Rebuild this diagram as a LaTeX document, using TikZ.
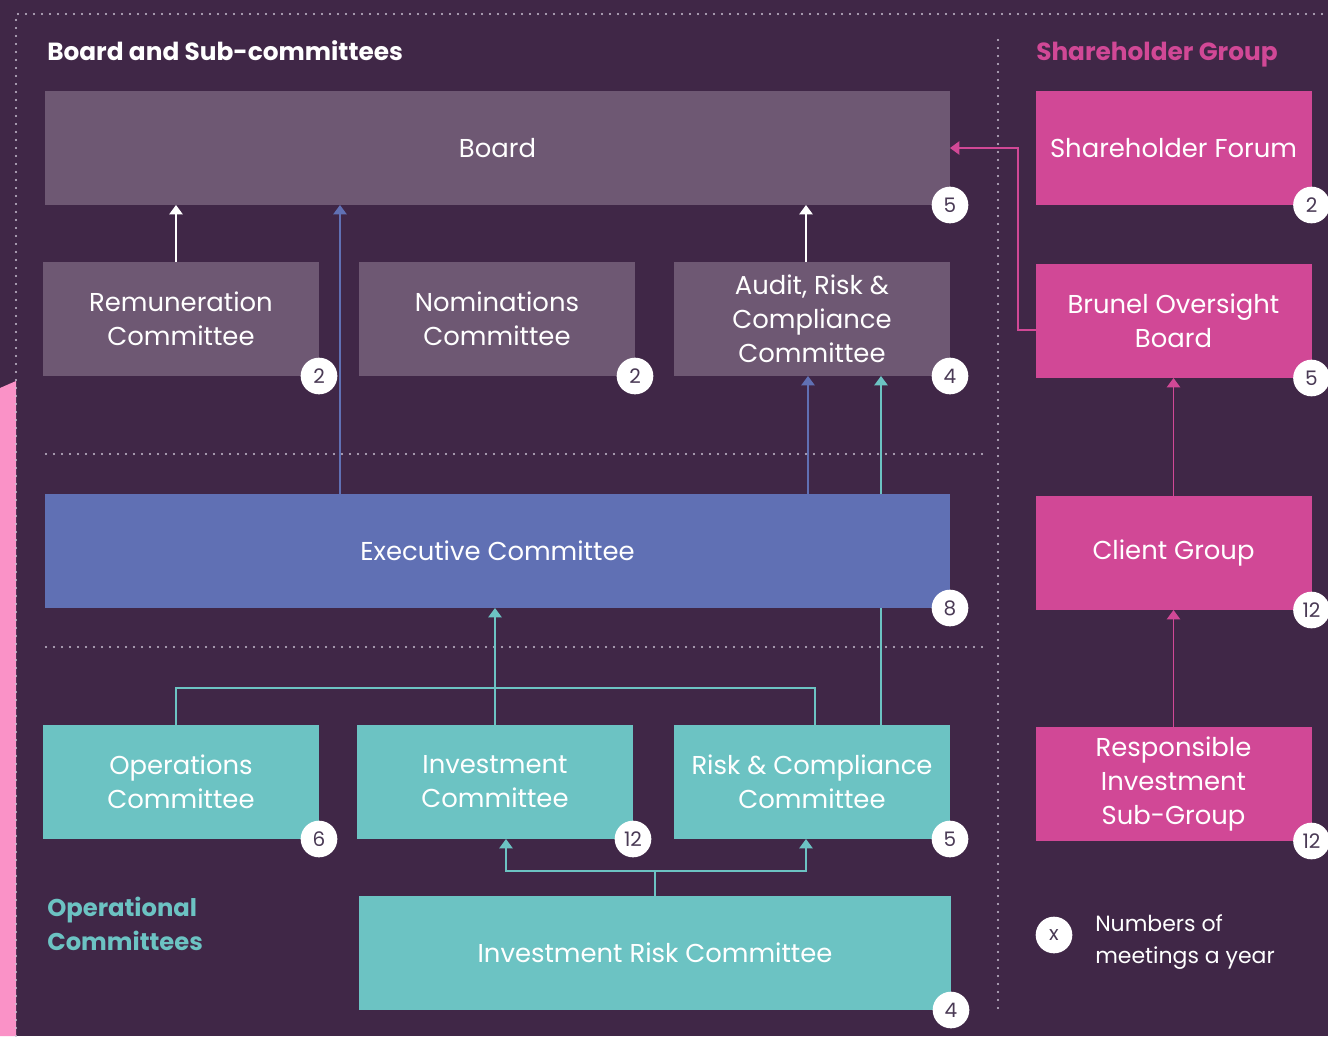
\documentclass[tikz,border=0pt]{standalone}
\usepackage{fontspec}
\setmainfont{Poppins}
\usetikzlibrary{positioning, arrows.meta, backgrounds}

\definecolor{bgpurple}{HTML}{402747}
\definecolor{boardgrey}{HTML}{6E5873}
\definecolor{execblue}{HTML}{6070B4}
\definecolor{opsteal}{HTML}{6CC3C3}
\definecolor{brunelpink}{HTML}{D14896}
\definecolor{strippink}{HTML}{FA92C7}
\definecolor{dotgrey}{HTML}{C9C1D2}
\definecolor{badgetext}{HTML}{4A3A55}

\begin{document}
\begin{tikzpicture}[x=0.75pt, y=-0.75pt, >={Triangle[width=10pt,length=7pt]},
    box/.style = {inner sep=0pt, outer sep=0pt, minimum height=85.5pt, text=white,
        align=center, font=\fontsize{19.4}{25.5}\selectfont},
    small/.style = {box, minimum width=207pt},
    wide/.style = {box, minimum width=678.75pt},
    badge/.style = {circle, fill=white, minimum size=27.5pt, inner sep=0pt,
        text=badgetext, font=\fontsize{15}{15}\selectfont},
    dots/.style = {draw=dotgrey, line width=1.6pt, line cap=round, dash pattern=on 0pt off 6pt},
    arrow/.style = {->, line width=1.1pt},
    title/.style = {anchor=base west, inner sep=0pt, font=\bfseries\fontsize{18.6}{25}\selectfont}]

    \useasboundingbox (0,0) rectangle (1328,1036);

    % Background
    \begin{scope}[on background layer]
    \fill[bgpurple] (0,0) rectangle (1328,1036);
    \fill[strippink] (0,388) -- (16,381) -- (16,1036) -- (0,1036) -- cycle;
    \draw[dots] (16,1036) -- (16,14) -- (1328,14);
    \draw[dots] (998,40) -- (998,1010);
    \draw[dots] (46,454) -- (985,454);
    \draw[dots] (46,647) -- (985,647);
    \end{scope}

    % Titles
    \node [title, text=white] (boardtitle) at (47,60) {Board and Sub-committees};
    \node [title, text=brunelpink] (sharetitle) at (1036,60) {Shareholder Group};
    \node [anchor=west, inner sep=0pt, align=left, text=opsteal,
        font=\bfseries\fontsize{18.2}{25.5}\selectfont] (opstitle) at (47,924) {Operational\\Committees};

    % Board and sub-committees
    \node [wide, fill=boardgrey] (board) at (497.5,148) {Board};
    \node [small, fill=boardgrey] (remun) at (181,319) {Remuneration\\Committee};
    \node [small, fill=boardgrey] (nomin) at (497,319) {Nominations\\Committee};
    \node [small, fill=boardgrey] (audit) at (812,319) {Audit, Risk \&\\Compliance\\Committee};
    \node [wide, fill=execblue] (exec) at (497.5,551) {Executive Committee};

    % Operational committees
    \node [small, fill=opsteal] (ops) at (181,782) {Operations\\Committee};
    \node [small, fill=opsteal] (inv) at (495,782) {Investment\\Committee};
    \node [small, fill=opsteal] (riskc) at (812,782) {Risk \& Compliance\\Committee};
    \node [box, minimum width=444pt, fill=opsteal] (irc) at (655,953) {Investment Risk Committee};

    % Shareholder group
    \node [small, fill=brunelpink] (forum) at (1173.5,148) {Shareholder Forum};
    \node [small, fill=brunelpink] (brunel) at (1173.5,321) {Brunel Oversight\\Board};
    \node [small, fill=brunelpink] (client) at (1173.5,553) {Client Group};
    \node [small, fill=brunelpink] (rigroup) at (1173.5,784) {Responsible\\Investment\\Sub-Group};

    % Meetings a year
    \node [badge] (boardn) at (board.south east) {5};
    \node [badge] (remunn) at (remun.south east) {2};
    \node [badge] (nominn) at (nomin.south east) {2};
    \node [badge] (auditn) at (audit.south east) {4};
    \node [badge] (execn) at (exec.south east) {8};
    \node [badge] (opsn) at (ops.south east) {6};
    \node [badge] (invn) at (inv.south east) {12};
    \node [badge] (riskcn) at (riskc.south east) {5};
    \node [badge] (ircn) at (irc.south east) {4};
    \node [badge] (forumn) at (forum.south east) {2};
    \node [badge] (bruneln) at (brunel.south east) {5};
    \node [badge] (clientn) at (client.south east) {12};
    \node [badge] (rigroupn) at (rigroup.south east) {12};

    % Legend
    \node [badge] (keyn) at (1054,935) {x};
    \node [anchor=west, inner sep=0pt, align=left, text=white, yshift=-5pt,
        font=\fontsize{16.5}{24}\selectfont] (keytext) [right=30.75pt of keyn.center] {Numbers of\\meetings a year};

    % Reporting lines
    \begin{scope}[on background layer]
    \draw [arrow, white] (176,0 |- remun.north) -- (176,0 |- board.south);
    \draw [arrow, white] (806,0 |- audit.north) -- (806,0 |- board.south);
    \draw [arrow, execblue] (340,0 |- exec.north) -- (340,0 |- board.south);
    \draw [arrow, execblue] (808,0 |- exec.north) -- (808,0 |- audit.south);
    \draw [arrow, opsteal] (881,0 |- riskc.north) -- (881,0 |- audit.south);
    \draw [arrow, opsteal] (inv.north) -- (inv.north |- exec.south);
    \draw [line width=1.1pt, opsteal] (176,0 |- ops.north) |- (815,688) -- (815,0 |- riskc.north);
    \draw [arrow, opsteal] (irc.north) |- (506,871) -- (506,0 |- inv.south);
    \draw [arrow, opsteal] (irc.north) |- (806,871) -- (806,0 |- riskc.south);
    \draw [arrow, brunelpink] (brunel.west |- 0,330) -- (1018,330) |- (board.east);
    \draw [arrow, brunelpink] (client.north) -- (brunel.south);
    \draw [arrow, brunelpink] (rigroup.north) -- (client.south);
    \end{scope}
\end{tikzpicture}
\end{document}
